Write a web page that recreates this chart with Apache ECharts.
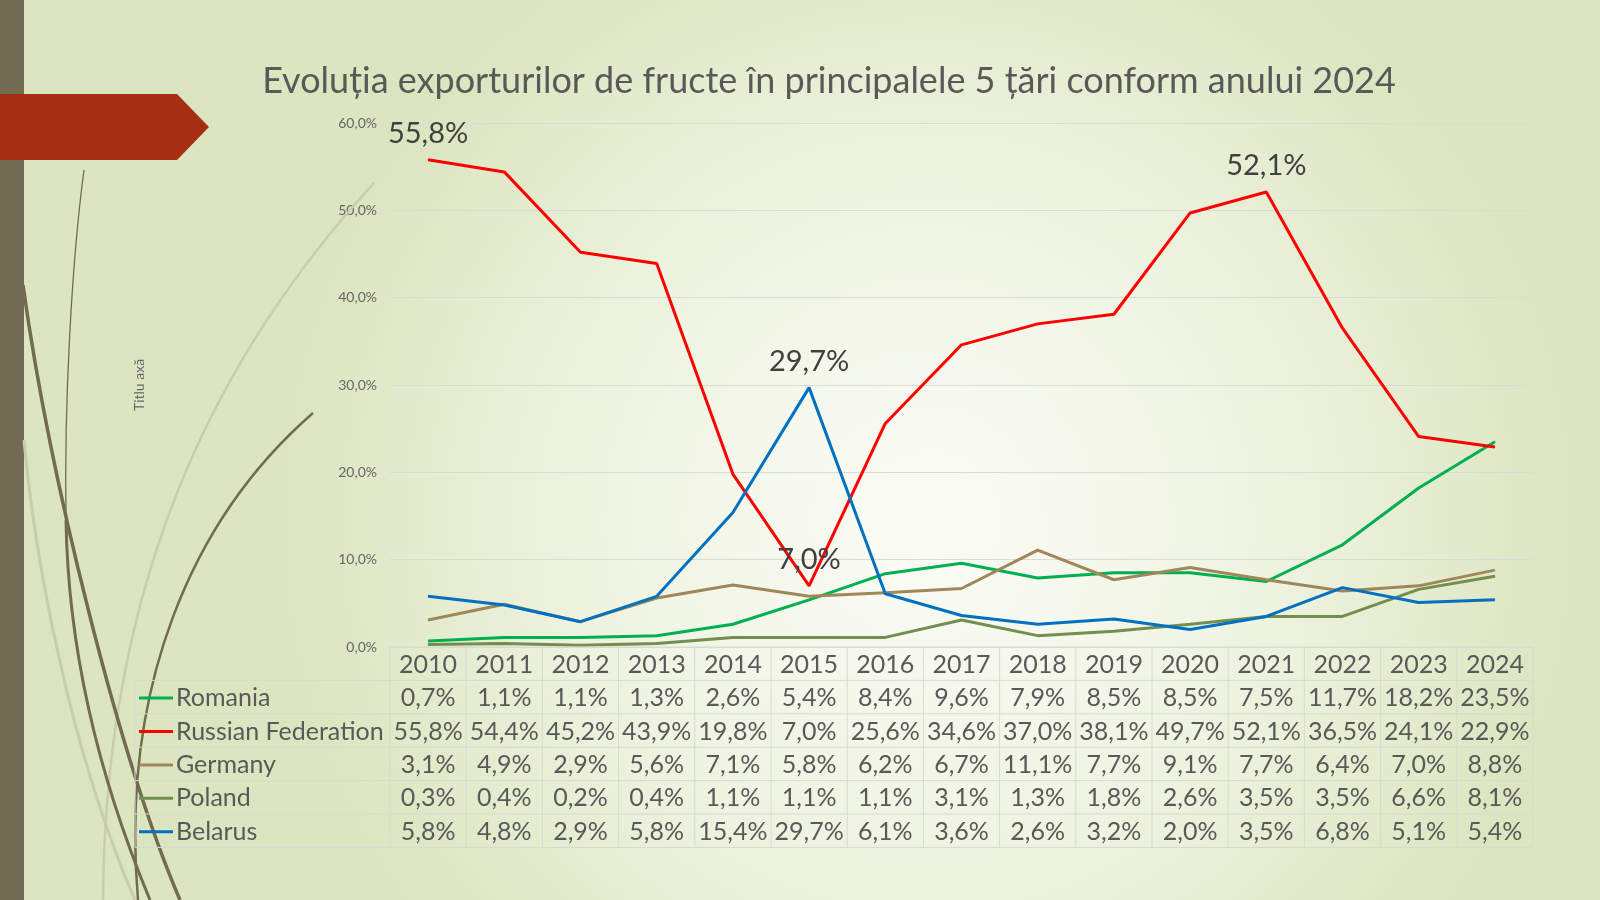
<!DOCTYPE html>
<html>
<head>
<meta charset="utf-8">
<script src="https://cdn.jsdelivr.net/npm/echarts@6/dist/echarts.min.js"></script>
<style>html,body{margin:0;padding:0;}#c{width:1600px;height:900px;}</style>
</head>
<body>
<div id="c"></div>
<script>
const years = ['2010','2011','2012','2013','2014','2015','2016','2017','2018','2019','2020','2021','2022','2023','2024'];
const romania = [0.7,1.1,1.1,1.3,2.6,5.4,8.4,9.6,7.9,8.5,8.5,7.5,11.7,18.2,23.5];
const russia  = [55.8,54.4,45.2,43.9,19.8,7.0,25.6,34.6,37.0,38.1,49.7,52.1,36.5,24.1,22.9];
const germany = [3.1,4.9,2.9,5.6,7.1,5.8,6.2,6.7,11.1,7.7,9.1,7.7,6.4,7.0,8.8];
const poland  = [0.3,0.4,0.2,0.4,1.1,1.1,1.1,3.1,1.3,1.8,2.6,3.5,3.5,6.6,8.1];
const belarus = [5.8,4.8,2.9,5.8,15.4,29.7,6.1,3.6,2.6,3.2,2.0,3.5,6.8,5.1,5.4];
const seriesNames = ['Romania','Russian Federation','Germany','Poland','Belarus'];
const seriesColors = ['#00b050','#ff0000','#a0875a','#738e4e','#0070c0'];
const labelledYears = [[], ['2010','2015','2021'], [], [], ['2015']];
const titleText = 'Evoluția exporturilor de fructe în principalele 5 țări conform anului 2024';
const axisTitle = 'Titlu axă';

const FONT = 'Lato, "Noto Sans", sans-serif';
const fmt = v => v.toFixed(1).replace('.', ',') + '%';
const allData = [romania, russia, germany, poland, belarus];

const G = {left: 390, right: 1533, top: 123, bottom: 647};
const rowH = 33.4;

const chart = echarts.init(document.getElementById('c'));

const series = allData.map((d, si) => ({
  name: seriesNames[si],
  type: 'line',
  symbol: 'circle',
  symbolSize: 1,
  showSymbol: true,
  smooth: false,
  lineStyle: {width: 3, color: seriesColors[si]},
  itemStyle: {color: seriesColors[si]},
  emphasis: {disabled: true},
  data: d.map((v, i) => {
    const show = labelledYears[si].indexOf(years[i]) >= 0;
    return {value: v, label: {show: show}};
  }),
  label: {
    show: false, position: 'top', distance: 11,
    formatter: p => fmt(p.value),
    fontFamily: FONT, fontSize: 29, color: '#404040'
  }
}));

chart.setOption({
  backgroundColor: {
    type: 'radial', x: 0.58, y: 0.58, r: 0.72,
    colorStops: [{offset: 0, color: '#fbfcf6'}, {offset: 0.55, color: '#eef3e0'}, {offset: 1, color: '#dbe5bf'}]
  },
  animation: false,
  grid: {left: G.left, right: 1600 - G.right, top: G.top, bottom: 900 - G.bottom, containLabel: false},
  xAxis: {
    type: 'category', data: years, boundaryGap: true,
    axisLine: {show: false}, axisTick: {show: false}, axisLabel: {show: false}
  },
  yAxis: {
    type: 'value', min: 0, max: 60, interval: 10,
    axisLine: {show: false}, axisTick: {show: false},
    splitLine: {lineStyle: {color: '#d9dbd6', width: 1}},
    axisLabel: {formatter: v => fmt(v), fontFamily: FONT, fontSize: 14, color: '#666666', margin: 13},
    name: axisTitle, nameLocation: 'middle', nameGap: 244, nameRotate: 90,
    nameTextStyle: {fontFamily: FONT, fontSize: 14, color: '#666666'}
  },
  series: series
});

const band = (G.right - G.left) / years.length;
const els = [];
els.push({type: 'rect', shape: {x: 0, y: 0, width: 24, height: 900}, style: {fill: '#726a51'}, z: 1});
els.push({type: 'polygon', shape: {points: [[0, 94], [177, 94], [209, 127], [177, 160], [0, 160]]}, style: {fill: '#a52f10'}, z: 3});
const curves = [
  {p: [374,183, 230,340, 105,560, 103,900], w: 2.5, c: '#c9ccae'},
  {p: [24,440, 35,560, 70,750, 135,900], w: 3, c: '#c9ccae'},
  {p: [313,413, 190,520, 120,690, 138,900], w: 2.5, c: '#736b50'},
  {p: [84,170, 72,260, 64,400, 66,520], w: 1.3, c: '#736b50'},
  {p: [66,520, 68,650, 100,780, 150,900], w: 3, c: '#736b50'},
  {p: [23,285, 50,480, 120,760, 180,900], w: 3.5, c: '#736b50'}
];
curves.forEach(cv => {
  const p = cv.p;
  els.push({type: 'bezierCurve', shape: {x1: p[0], y1: p[1], cpx1: p[2], cpy1: p[3], cpx2: p[4], cpy2: p[5], x2: p[6], y2: p[7]},
    style: {stroke: cv.c, lineWidth: cv.w, fill: null}, z: 1});
});
els.push({type: 'text', x: 829, y: 81, style: {text: titleText, font: '36px ' + FONT, fill: '#595959', textAlign: 'center', textVerticalAlign: 'middle'}, z: 5});

const lineColor = '#d8dad2';
const tTop = G.bottom;
const hdrBottom = tTop + rowH;
const tBottom = hdrBottom + rowH * seriesNames.length;
const legLeft = 135;
els.push({type: 'line', shape: {x1: G.left, y1: tTop, x2: G.right, y2: tTop}, style: {stroke: lineColor, lineWidth: 1}, z: 4});
for (let r = 0; r <= seriesNames.length; r++) {
  const y = hdrBottom + rowH * r;
  els.push({type: 'line', shape: {x1: legLeft, y1: y, x2: G.right, y2: y}, style: {stroke: lineColor, lineWidth: 1}, z: 4});
}
els.push({type: 'line', shape: {x1: legLeft, y1: hdrBottom, x2: legLeft, y2: tBottom}, style: {stroke: lineColor, lineWidth: 1}, z: 4});
for (let k = 0; k <= years.length; k++) {
  const x = G.left + band * k;
  els.push({type: 'line', shape: {x1: x, y1: tTop, x2: x, y2: tBottom}, style: {stroke: lineColor, lineWidth: 1}, z: 4});
}
years.forEach((yr, i) => {
  const cx = chart.convertToPixel({xAxisIndex: 0}, yr);
  els.push({type: 'text', x: cx, y: tTop + rowH / 2 + 1, style: {text: yr, font: '25px ' + FONT, fill: '#595959', textAlign: 'center', textVerticalAlign: 'middle'}, z: 5});
});
seriesNames.forEach((nm, si) => {
  const cy = hdrBottom + rowH * si + rowH / 2 + 1;
  els.push({type: 'line', shape: {x1: 139, y1: cy, x2: 173, y2: cy}, style: {stroke: seriesColors[si], lineWidth: 3}, z: 5});
  els.push({type: 'text', x: 176, y: cy, style: {text: nm, font: '25px ' + FONT, fill: '#595959', textAlign: 'left', textVerticalAlign: 'middle'}, z: 5});
  allData[si].forEach((v, i) => {
    const cx = chart.convertToPixel({xAxisIndex: 0}, years[i]);
    els.push({type: 'text', x: cx, y: cy, style: {text: fmt(v), font: '25px ' + FONT, fill: '#595959', textAlign: 'center', textVerticalAlign: 'middle'}, z: 5});
  });
});

chart.setOption({graphic: {elements: els}});
</script>
</body>
</html>
